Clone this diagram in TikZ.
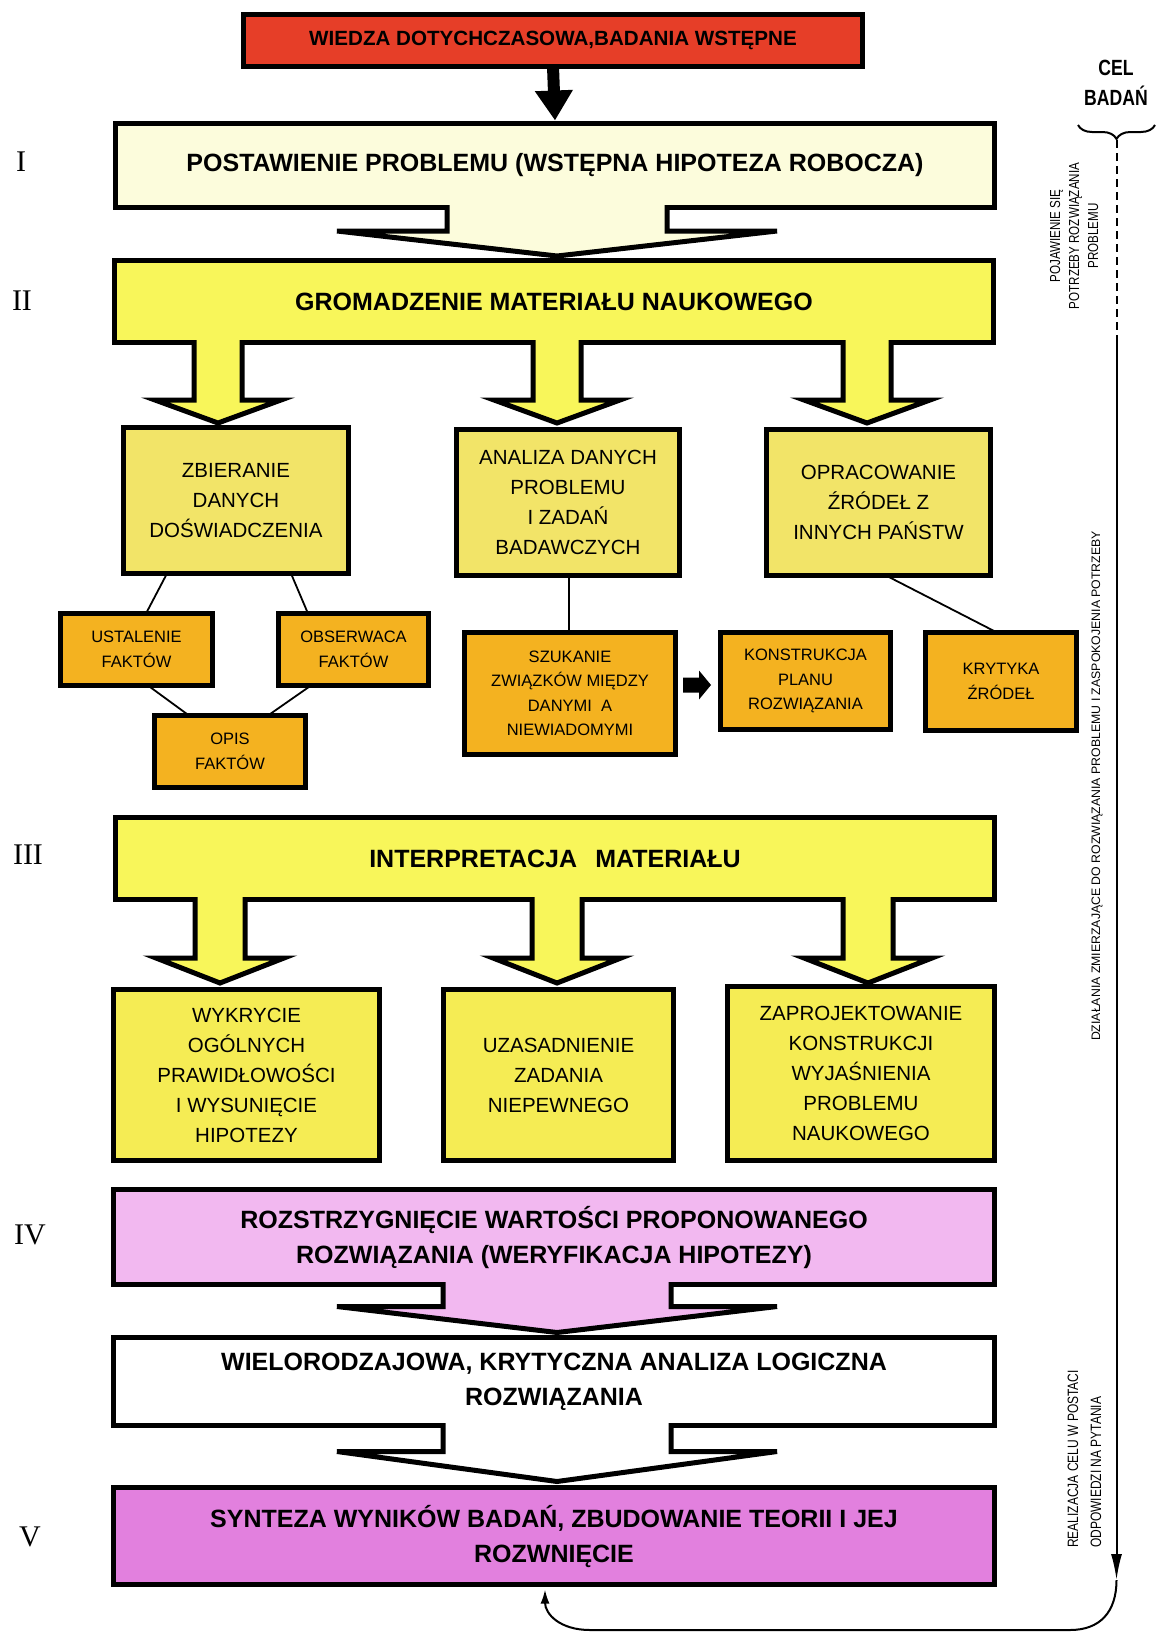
\documentclass[tikz,border=0pt]{standalone}
\usepackage{fontspec}
\setmainfont{Liberation Sans}
\newfontfamily\narrowsans[FakeStretch=0.8]{Liberation Sans}
\newfontfamily\numeralfont{Liberation Serif}
\usetikzlibrary{arrows.meta,calc,decorations.pathreplacing}

\definecolor{wiedzared}{RGB}{230,62,40}
\definecolor{creamfill}{RGB}{252,252,220}
\definecolor{brightyellow}{RGB}{248,246,90}
\definecolor{softyellow}{RGB}{242,228,104}
\definecolor{rowyellow}{RGB}{245,236,84}
\definecolor{amber}{RGB}{244,178,32}
\definecolor{lightpink}{RGB}{242,184,240}
\definecolor{deeppink}{RGB}{226,128,222}

% thick block arrow hanging below a node:
% #1 node, #2 x offset, #3 half shaft, #4 half head, #5 shaft length, #6 head length, #7 fill
\newcommand\blockarrow[7]{%
  \fill[#7] ($(#1.south)+(#2-#3,-3)$) -- ($(#1.south)+(#2-#3,#5)$) -- ($(#1.south)+(#2-#4,#5)$)
    -- ($(#1.south)+(#2,#5+#6)$) -- ($(#1.south)+(#2+#4,#5)$) -- ($(#1.south)+(#2+#3,#5)$)
    -- ($(#1.south)+(#2+#3,-3)$) -- cycle;
  \draw[arrowedge] ($(#1.south)+(#2-#3,-2.5)$) -- ($(#1.south)+(#2-#3,#5)$) -- ($(#1.south)+(#2-#4,#5)$)
    -- ($(#1.south)+(#2,#5+#6)$) -- ($(#1.south)+(#2+#4,#5)$) -- ($(#1.south)+(#2+#3,#5)$)
    -- ($(#1.south)+(#2+#3,-2.5)$);
}

\tikzset{
  box/.style={draw=black, line width=5pt, rectangle, inner sep=0pt, outer sep=0pt,
    align=center, text=black},
  mainbox/.style={box, font=\bfseries\fontsize{25}{35}\selectfont},
  midbox/.style={box, font=\fontsize{20.5}{30}\selectfont},
  smallbox/.style={box, fill=amber, font=\fontsize{16.5}{24.5}\selectfont},
  arrowedge/.style={draw=black, line width=5pt, line join=miter},
  link/.style={draw=black, line width=1.8pt},
  feed/.style={draw=black, line width=2pt},
  sidetext/.style={inner sep=0pt, text=black},
  numeral/.style={inner sep=0pt, font=\numeralfont\fontsize{30}{30}\selectfont},
}

\begin{document}
\begin{tikzpicture}[x=1pt,y=-1pt]
\fill[white] (0,0) rectangle (1162,1633);
\useasboundingbox (0,0) rectangle (1162,1633);

% stage numerals
\node[numeral] (n1) at (21,162) {I};
\node[numeral] (n2) at (22,301) {II};
\node[numeral] (n3) at (28,855) {III};
\node[numeral] (n4) at (30,1235) {IV};
\node[numeral] (n5) at (30,1537) {V};

% main column
\node[box, fill=wiedzared, minimum width=619pt, minimum height=52pt,
      font=\bfseries\fontsize{20.6}{24}\selectfont] (wiedza) at (553,40.5)
      {WIEDZA DOTYCHCZASOWA,BADANIA WSTĘPNE};
\node[mainbox, fill=creamfill, minimum width=879pt, minimum height=84pt] (etap1) at (555,165.5)
      {POSTAWIENIE PROBLEMU (WSTĘPNA HIPOTEZA ROBOCZA)};
\node[mainbox, fill=brightyellow, minimum width=879pt, minimum height=82pt] (etap2) at (554,301.5)
      {GROMADZENIE MATERIAŁU NAUKOWEGO};

% stage II details
\node[midbox, fill=softyellow, minimum width=225pt, minimum height=146pt] (zbier) at (236,500.5)
      {ZBIERANIE\\DANYCH\\DOŚWIADCZENIA};
\node[midbox, fill=softyellow, minimum width=223pt, minimum height=146pt] (anal) at (568,502.5)
      {ANALIZA DANYCH\\PROBLEMU\\I ZADAŃ\\BADAWCZYCH};
\node[midbox, fill=softyellow, minimum width=224pt, minimum height=146pt] (oprac) at (878.5,502.5)
      {OPRACOWANIE\\ŹRÓDEŁ Z\\INNYCH PAŃSTW};

\node[smallbox, minimum width=152pt, minimum height=72pt] (ustal) at (136.5,649.5) {USTALENIE\\FAKTÓW};
\node[smallbox, minimum width=150pt, minimum height=72pt] (obser) at (353.5,649.5) {OBSERWACA\\FAKTÓW};
\node[smallbox, minimum width=151pt, minimum height=72pt] (opis) at (230,751.5) {OPIS\\FAKTÓW};
\node[smallbox, minimum width=211pt, minimum height=122pt] (szuk) at (570,693.5)
      {SZUKANIE\\ZWIĄZKÓW MIĘDZY\\DANYMI\ \ A\\NIEWIADOMYMI};
\node[smallbox, minimum width=170pt, minimum height=97pt] (konst) at (805.5,681)
      {KONSTRUKCJA\\PLANU\\ROZWIĄZANIA};
\node[smallbox, minimum width=151pt, minimum height=98pt] (kryt) at (1001,681.5) {KRYTYKA\\ŹRÓDEŁ};

\draw[link] ($(zbier.south)+(-69,0)$) -- ($(ustal.north)+(9.5,0)$);
\draw[link] ($(zbier.south)+(55,0)$) -- ($(obser.north)+(-45.5,0)$);
\draw[link] ($(ustal.south)+(11.5,0)$) -- ($(opis.north)+(-41,0)$);
\draw[link] ($(obser.south)+(-42.5,0)$) -- ($(opis.north)+(38,0)$);
\draw[link] ($(anal.south)+(1,0)$) -- ($(szuk.north)+(-1,0)$);
\draw[link] ($(oprac.south)+(7.5,0)$) -- ($(kryt.north)+(-4,0)$);
\fill[black] ($(szuk.east)+(7.5,-16)$) -- ($(szuk.east)+(23.5,-16)$) -- ($(szuk.east)+(23.5,-23)$)
  -- ($(konst.west)+(-9.5,4)$) -- ($(szuk.east)+(23.5,6)$) -- ($(szuk.east)+(23.5,-1)$)
  -- ($(szuk.east)+(7.5,-1)$) -- cycle;

% stage III
\node[mainbox, fill=brightyellow, minimum width=879pt, minimum height=82pt] (etap3) at (555,858.5)
      {INTERPRETACJA\hspace{0.45em} MATERIAŁU};
\node[midbox, fill=rowyellow, minimum width=266pt, minimum height=171pt] (wykr) at (246.5,1075)
      {WYKRYCIE\\OGÓLNYCH\\PRAWIDŁOWOŚCI\\I WYSUNIĘCIE\\HIPOTEZY};
\node[midbox, fill=rowyellow, minimum width=230pt, minimum height=171pt] (uzas) at (558.5,1075)
      {UZASADNIENIE\\ZADANIA\\NIEPEWNEGO};
\node[midbox, fill=rowyellow, minimum width=267pt, minimum height=174pt] (zapr) at (861,1073.5)
      {ZAPROJEKTOWANIE\\KONSTRUKCJI\\WYJAŚNIENIA\\PROBLEMU\\NAUKOWEGO};

% stages IV and V
\node[mainbox, fill=lightpink, minimum width=881pt, minimum height=95pt] (etap4) at (554,1237)
      {ROZSTRZYGNIĘCIE WARTOŚCI PROPONOWANEGO\\ROZWIĄZANIA (WERYFIKACJA HIPOTEZY)};
\node[mainbox, fill=white, minimum width=881pt, minimum height=88pt] (analiza) at (554,1381.5)
      {WIELORODZAJOWA, KRYTYCZNA ANALIZA LOGICZNA\\ROZWIĄZANIA};
\node[mainbox, fill=deeppink, minimum width=881pt, minimum height=97pt] (synteza) at (554,1536)
      {SYNTEZA WYNIKÓW BADAŃ, ZBUDOWANIE TEORII I JEJ\\ROZWNIĘCIE};

% arrows between stages
\draw[line width=12pt, -{Triangle[length=30pt,width=36pt]}]
  (wiedza.south) -- ($(etap1.north)+(0,-3)$);
\blockarrow{etap1}{2}{110}{220}{23.5}{25}{creamfill}
\blockarrow{etap2}{-336}{24}{63}{57.5}{23}{brightyellow}
\blockarrow{etap2}{3}{24}{63}{57.5}{23}{brightyellow}
\blockarrow{etap2}{313}{24}{63}{57.5}{23}{brightyellow}
\blockarrow{etap3}{-335}{25}{64}{58.5}{25}{brightyellow}
\blockarrow{etap3}{2}{25}{64}{58.5}{25}{brightyellow}
\blockarrow{etap3}{313}{25}{64}{58.5}{25}{brightyellow}
\blockarrow{etap4}{3}{114}{220}{22}{26}{lightpink}
\blockarrow{analiza}{3}{114}{220}{26}{30}{white}

% research goal line on the right
\node[sidetext, align=center, font=\narrowsans\bfseries\fontsize{22}{30}\selectfont] (cel) at (1116,83) {CEL\\BADAŃ};
\draw[line width=2pt, decorate, decoration={brace, amplitude=14pt, mirror}] (1078,125) -- (1155,125);
\coordinate (celtip) at (1116.5,140);
\coordinate (solidtop) at (1116.5,343);
\coordinate (loopend) at (1116.5,1580);
\draw[feed, dash pattern=on 8pt off 5pt] (celtip) -- (solidtop);
\draw[feed, -{Latex[length=26pt,width=11pt]}] (solidtop) -- (loopend);
\draw[feed, -{Latex[length=14pt,width=9pt]}] (loopend) .. controls (1116.5,1612) and (1100,1630) .. (1070,1630)
  -- (590,1630) .. controls (560,1630) and (545,1614) .. ($(synteza.south)+(-9,5)$);

\node[sidetext, rotate=90, align=center, font=\narrowsans\fontsize{14.5}{19}\selectfont] (pojaw) at (1074,236)
  {POJAWIENIE SIĘ\\POTRZEBY ROZWIĄZANIA\\PROBLEMU};
\node[sidetext, rotate=90, font=\fontsize{12.3}{14}\selectfont] (dzial) at (1097,786)
  {DZIAŁANIA ZMIERZAJĄCE DO ROZWIĄZANIA PROBLEMU I ZASPOKOJENIA POTRZEBY};
\node[sidetext, rotate=90, anchor=west, font=\narrowsans\fontsize{15}{16}\selectfont] (real1) at (1073,1548)
  {REALIZACJA CELU W POSTACI};
\node[sidetext, rotate=90, anchor=west, font=\narrowsans\fontsize{15}{16}\selectfont] (real2) at (1096,1548)
  {ODPOWIEDZI NA PYTANIA};
\end{tikzpicture}
\end{document}
